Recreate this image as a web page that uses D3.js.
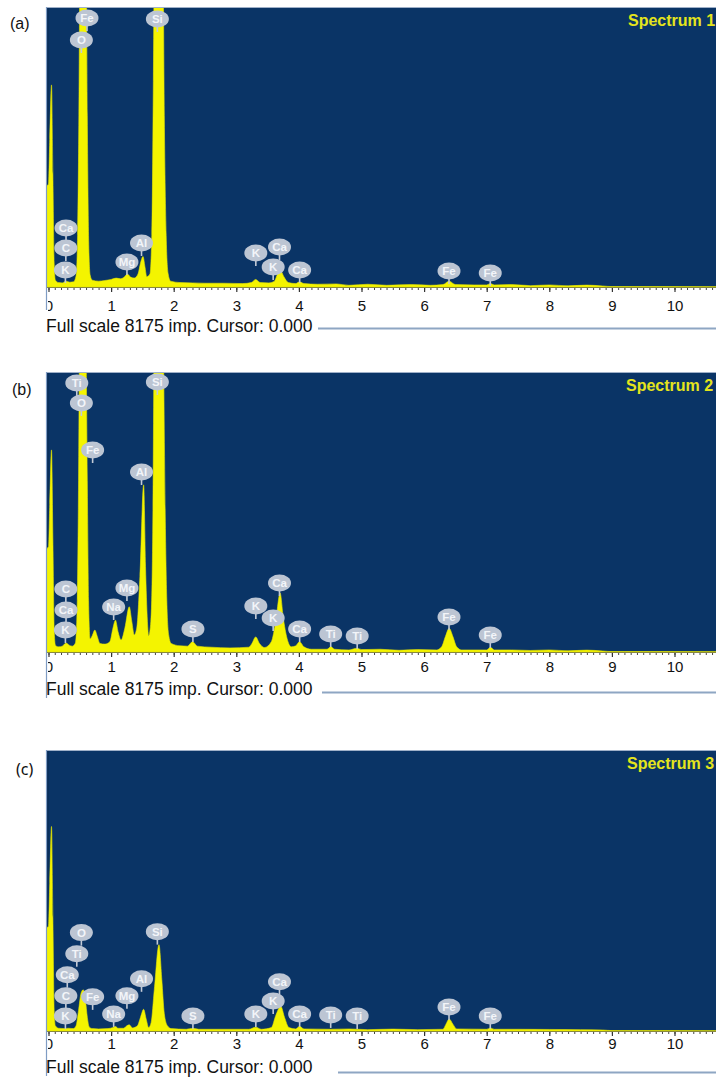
<!DOCTYPE html>
<html>
<head>
<meta charset="utf-8">
<script src="https://cdn.jsdelivr.net/npm/d3@7"></script>
<style>
  html, body { margin: 0; padding: 0; background: #ffffff; }
  svg { display: block; }
</style>
</head>
<body>
<svg id="fig" width="716" height="1080"></svg>
<script>
// ---------------- data ----------------
// energy axis (keV) tick values
const majorTicks = [0, 1, 2, 3, 4, 5, 6, 7, 8, 9, 10];
const fullScale = 8175; // counts at the top of each plot

// Spectrum vertices: [energy keV, counts]
const spectrum1 = [
  [-0.05, 2950], [0.00, 3000], [0.02, 4300], [0.048, 5900], [0.07, 3300], [0.09, 700], [0.11, 200],
  [0.16, 130], [0.22, 120], [0.28, 170], [0.34, 140], [0.40, 150], [0.44, 320], [0.465, 1500],
  [0.485, 5000], [0.50, 9000], [0.555, 14000], [0.605, 9000], [0.62, 5000], [0.64, 1500], [0.665, 350],
  [0.70, 200], [0.80, 170], [0.90, 190], [1.00, 220], [1.08, 260], [1.15, 240], [1.21, 290],
  [1.26, 380], [1.31, 290], [1.37, 260], [1.43, 380], [1.47, 700], [1.51, 890], [1.54, 600],
  [1.57, 300], [1.62, 380], [1.65, 1500], [1.675, 6000], [1.695, 11000], [1.76, 16000], [1.825, 11000],
  [1.85, 5000], [1.88, 1500], [1.91, 400], [1.95, 170], [2.1, 130], [2.3, 120], [2.5, 110],
  [2.8, 110], [3.1, 100], [3.24, 130], [3.31, 220], [3.38, 130], [3.52, 120], [3.61, 170],
  [3.66, 380], [3.71, 460], [3.76, 300], [3.83, 130], [3.95, 100], [4.01, 150], [4.08, 100],
  [4.3, 80], [4.6, 90], [4.8, 50], [5.1, 80], [5.4, 50], [5.8, 70], [6.1, 50], [6.3, 70],
  [6.40, 170], [6.50, 70], [6.8, 60], [7.0, 60], [7.06, 100], [7.12, 60], [7.4, 70], [7.7, 40],
  [8.0, 60], [8.3, 35], [8.6, 55], [8.85, 30], [9.0, 12], [10.7, 10]
];

const spectrum2 = [
  [-0.05, 3000], [0.00, 3070], [0.02, 4300], [0.048, 5900], [0.07, 3300], [0.09, 700], [0.11, 200],
  [0.16, 150], [0.22, 170], [0.28, 260], [0.33, 200], [0.38, 170], [0.43, 260], [0.46, 1500],
  [0.48, 5000], [0.495, 9000], [0.55, 14000], [0.60, 9000], [0.62, 5000], [0.64, 1500], [0.665, 380],
  [0.70, 480], [0.74, 640], [0.78, 450], [0.82, 250], [0.90, 230], [0.98, 300], [1.03, 700],
  [1.07, 930], [1.11, 600], [1.16, 350], [1.22, 700], [1.29, 1320], [1.33, 900], [1.37, 500],
  [1.41, 700], [1.46, 2200], [1.52, 4880], [1.55, 2500], [1.58, 900], [1.60, 470], [1.635, 900],
  [1.665, 3500], [1.69, 10000], [1.76, 17000], [1.83, 10000], [1.865, 4000], [1.89, 1500], [1.92, 500],
  [1.96, 250], [2.1, 180], [2.22, 170], [2.30, 300], [2.38, 170], [2.6, 140], [2.9, 120],
  [3.2, 140], [3.25, 250], [3.31, 440], [3.37, 250], [3.45, 130], [3.56, 300], [3.63, 900],
  [3.70, 1720], [3.75, 1000], [3.81, 400], [3.88, 150], [3.95, 180], [4.01, 300], [4.08, 150],
  [4.2, 80], [4.45, 80], [4.51, 150], [4.57, 80], [4.8, 60], [4.93, 110], [5.0, 70], [5.3, 80],
  [5.6, 50], [5.9, 70], [6.2, 60], [6.28, 150], [6.34, 450], [6.40, 690], [6.46, 450], [6.52, 150],
  [6.6, 60], [7.0, 60], [7.06, 140], [7.12, 60], [7.4, 60], [7.7, 45], [8.0, 60], [8.3, 35],
  [8.6, 55], [8.85, 30], [9.0, 12], [10.7, 10]
];

const spectrum3 = [
  [-0.05, 3000], [0.00, 3040], [0.02, 4300], [0.048, 5950], [0.07, 3300], [0.09, 600], [0.11, 150],
  [0.16, 80], [0.25, 70], [0.32, 80], [0.40, 70], [0.44, 150], [0.48, 600], [0.52, 1100],
  [0.555, 1200], [0.59, 900], [0.62, 400], [0.65, 120], [0.70, 70], [0.80, 60], [0.95, 70],
  [1.03, 100], [1.07, 130], [1.11, 80], [1.20, 80], [1.25, 150], [1.29, 180], [1.34, 90],
  [1.42, 150], [1.47, 400], [1.52, 630], [1.56, 350], [1.60, 100], [1.64, 250], [1.69, 1200],
  [1.765, 2510], [1.81, 1500], [1.85, 500], [1.90, 150], [1.96, 70], [2.2, 50], [2.31, 80],
  [2.4, 50], [3.2, 50], [3.31, 110], [3.4, 50], [3.56, 100], [3.63, 450], [3.71, 720],
  [3.77, 400], [3.84, 100], [3.95, 60], [4.01, 140], [4.08, 60], [4.5, 50], [4.8, 60],
  [5.1, 40], [5.5, 55], [5.9, 40], [6.3, 50], [6.35, 200], [6.40, 350], [6.46, 200], [6.52, 60],
  [7.0, 50], [7.06, 90], [7.12, 50], [7.5, 50], [8.0, 45], [8.5, 40], [8.85, 30], [9.0, 12],
  [10.7, 10]
];

// Element markers: [symbol, line energy keV, marker level in counts]
const labels1 = [
  ["Fe", 0.615, 7855], ["O", 0.525, 7212], ["Si", 1.739, 7826],
  ["Ca", 0.28, 1723], ["C", 0.277, 1139], ["K", 0.27, 496],
  ["Mg", 1.253, 730], ["Al", 1.486, 1285],
  ["K", 3.312, 993], ["Ca", 3.69, 1168], ["K", 3.589, 584], ["Ca", 4.012, 496],
  ["Fe", 6.398, 467], ["Fe", 7.057, 409]
];

const labels2 = [
  ["Ti", 0.452, 7855], ["O", 0.525, 7271], ["Fe", 0.705, 5898], ["Si", 1.739, 7884],
  ["Al", 1.486, 5256], ["C", 0.277, 1840], ["Ca", 0.28, 1226], ["K", 0.27, 642],
  ["Na", 1.041, 1314], ["Mg", 1.253, 1869], ["S", 2.307, 672],
  ["K", 3.312, 1343], ["K", 3.589, 993], ["Ca", 3.69, 2015], ["Ca", 4.012, 672],
  ["Ti", 4.508, 526], ["Ti", 4.931, 467], ["Fe", 6.398, 1022], ["Fe", 7.057, 496]
];

const labels3 = [
  ["O", 0.525, 2862], ["Ti", 0.452, 2248], ["Ca", 0.30, 1635], ["C", 0.277, 1022], ["K", 0.27, 438],
  ["Fe", 0.705, 993], ["Na", 1.041, 496], ["Mg", 1.253, 1022], ["Al", 1.486, 1518],
  ["Si", 1.739, 2891], ["S", 2.307, 438],
  ["K", 3.312, 496], ["K", 3.589, 876], ["Ca", 3.69, 1431], ["Ca", 4.012, 496],
  ["Ti", 4.508, 467], ["Ti", 4.931, 438], ["Fe", 6.398, 701], ["Fe", 7.057, 438]
];

// ---------------- drawing ----------------
const svg = d3.select("#fig");
const W = 716;
const plotLeft = 46;
const NAVY = "#0a3466";
const YELLOW = "#f4f400";

const defs = svg.append("defs");
defs.append("filter").attr("id", "soft")
  .attr("x", "-30%").attr("y", "-30%").attr("width", "160%").attr("height", "160%")
  .append("feGaussianBlur").attr("stdDeviation", 0.7);

const panels = [
  { tag: "(a)", tagX: 10, tagY: 29, tagFont: "'Liberation Sans', Arial, sans-serif",
    title: "Spectrum 1", titleX: 628, spec: spectrum1, marks: labels1,
    top: 7, base: 287, tickPad: 8, footY: 332, lineX: 318, lineY: 328.5, edgeEnd: 310 },
  { tag: "(b)", tagX: 12, tagY: 395, tagFont: "'Liberation Sans', Arial, sans-serif",
    title: "Spectrum 2", titleX: 626, spec: spectrum2, marks: labels2,
    top: 372, base: 652, tickPad: 4.5, footY: 695, lineX: 322, lineY: 692.5, edgeEnd: 698 },
  { tag: "(c)", tagX: 16, tagY: 775, tagFont: "'Noto Sans', 'Open Sans', sans-serif",
    title: "Spectrum 3", titleX: 627, spec: spectrum3, marks: labels3,
    top: 750, base: 1031, tickPad: 2, footY: 1073, lineX: 338, lineY: 1072.5, edgeEnd: 1076 }
];

panels.forEach((p, i) => {
  const g = svg.append("g");
  const x = d3.scaleLinear().domain([0, 10]).range([48.5, 674.5]);
  const y = d3.scaleLinear().domain([0, fullScale]).range([p.base, p.top]);

  // plot background
  g.append("rect").attr("x", plotLeft).attr("y", p.top)
    .attr("width", W - plotLeft).attr("height", p.base - p.top).attr("fill", NAVY);
  // darker strip below zero energy
  g.append("rect").attr("x", plotLeft + 1).attr("y", p.top)
    .attr("width", x(0) - plotLeft - 1).attr("height", p.base - p.top).attr("fill", "#062a55");

  const clipId = "clip" + i;
  defs.append("clipPath").attr("id", clipId).append("rect")
    .attr("x", plotLeft + 1).attr("y", p.top)
    .attr("width", W - plotLeft - 1).attr("height", p.base - p.top);

  // spectrum
  const area = d3.area()
    .x(d => x(d[0]))
    .y0(p.base)
    .y1(d => y(d[1]))
    .curve(d3.curveMonotoneX);
  g.append("path").datum(p.spec)
    .attr("clip-path", `url(#${clipId})`)
    .attr("d", area)
    .attr("fill", YELLOW)
    .attr("stroke", "#e6e600").attr("stroke-width", 0.6);

  // element markers
  const mk = g.append("g").attr("clip-path", `url(#${clipId})`);
  p.marks.forEach(([sym, e, lvl]) => {
    const cx = x(e), cy = y(lvl);
    const m = mk.append("g");
    m.append("line").attr("x1", cx).attr("x2", cx)
      .attr("y1", cy + 6).attr("y2", cy + 13)
      .attr("stroke", "#c3cad6").attr("stroke-width", 1.6);
    m.append("ellipse").attr("cx", cx).attr("cy", cy)
      .attr("rx", 11.5).attr("ry", 8.5)
      .attr("fill", "#bcc5d3").attr("filter", "url(#soft)");
    m.append("text").attr("x", cx).attr("y", cy + 4)
      .attr("text-anchor", "middle")
      .attr("font-family", "'Liberation Sans', Arial, sans-serif")
      .attr("font-size", 11.5).attr("font-weight", "bold")
      .attr("fill", "#f3f5f9")
      .text(sym);
  });

  // frame line along the top
  g.append("line").attr("x1", plotLeft).attr("x2", W).attr("y1", p.top + 0.5).attr("y2", p.top + 0.5)
    .attr("stroke", "#9fb0c8").attr("stroke-width", 1);

  // axis: minor ticks every 0.1 keV, major ticks with labels
  const axClip = "axclip" + i;
  defs.append("clipPath").attr("id", axClip).append("rect")
    .attr("x", x(0) - 0.5).attr("y", p.base - 2).attr("width", W).attr("height", 40);

  const minor = d3.range(0, 107).map(k => k / 10);
  const minorAxis = d3.axisBottom(x).tickValues(minor).tickSize(3).tickFormat("");
  g.append("g").attr("transform", `translate(0,${p.base})`).call(minorAxis)
    .call(a => a.select(".domain").remove())
    .call(a => a.selectAll("line").attr("stroke", "#444").attr("stroke-width", 1));

  const majorAxis = d3.axisBottom(x).tickValues(majorTicks).tickSize(5)
    .tickPadding(p.tickPad).tickFormat(d3.format("d"));
  g.append("g").attr("clip-path", `url(#${axClip})`)
    .append("g").attr("transform", `translate(0,${p.base})`)
    .call(majorAxis)
    .call(a => a.select(".domain").remove())
    .call(a => a.selectAll("line").attr("stroke", "#333").attr("stroke-width", 1.2))
    .call(a => a.selectAll("text")
      .attr("font-family", "'Liberation Sans', Arial, sans-serif")
      .attr("font-size", 15).attr("fill", "#111"));

  // baseline along the axis
  g.append("line").attr("x1", plotLeft + 1).attr("x2", W)
    .attr("y1", p.base + 0.5).attr("y2", p.base + 0.5)
    .attr("stroke", "#8a8a3a").attr("stroke-width", 1);

  // left edge, running down past the tick labels
  g.append("line").attr("x1", plotLeft + 0.5).attr("x2", plotLeft + 0.5)
    .attr("y1", p.top).attr("y2", p.edgeEnd)
    .attr("stroke", "#7f9cc4").attr("stroke-width", 1.2);

  // title
  g.append("text").attr("x", p.titleX).attr("y", p.top + 18.5)
    .attr("font-family", "'Liberation Sans', Arial, sans-serif")
    .attr("font-size", 16).attr("font-weight", "bold")
    .attr("fill", "#e4e41c").text(p.title);

  // panel tag
  g.append("text").attr("x", p.tagX).attr("y", p.tagY)
    .attr("font-family", p.tagFont).attr("font-size", 16).attr("fill", "#111")
    .text(p.tag);

  // footer
  g.append("text").attr("x", plotLeft).attr("y", p.footY)
    .attr("font-family", "'Liberation Sans', Arial, sans-serif")
    .attr("font-size", 17.5).attr("fill", "#111")
    .text(`Full scale ${fullScale} imp. Cursor: 0.000`);
  g.append("line").attr("x1", p.lineX).attr("x2", W).attr("y1", p.lineY).attr("y2", p.lineY)
    .attr("stroke", "#8ea6c3").attr("stroke-width", 2);
});
</script>
</body>
</html>
